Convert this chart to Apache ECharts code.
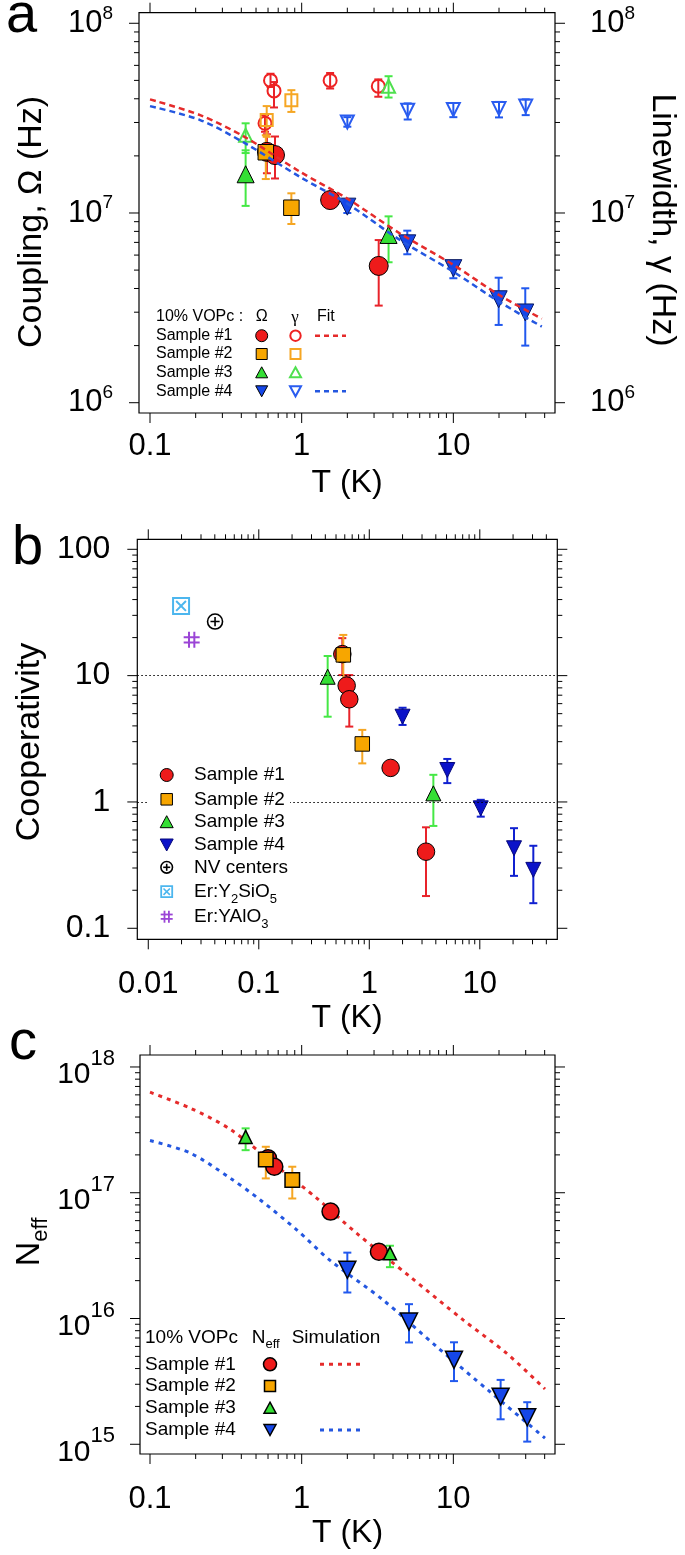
<!DOCTYPE html>
<html><head><meta charset="utf-8">
<script src="https://cdn.jsdelivr.net/npm/echarts@6/dist/echarts.min.js"></script>
<style>html,body{margin:0;padding:0;background:#fff}#c{width:685px;height:1555px}</style>
</head><body><div id="c"></div>
<script>
// ===== Panel a: [T (K), value, lower, upper] =====
const aOmega1 = [[0.59,2.10e7,1.62e7,2.60e7],[0.667,2.02e7,1.52e7,2.53e7],[1.54,1.17e7,1.12e7,1.22e7],[3.22,5.26e6,3.25e6,7.2e6]];
const aGamma1 = [[0.573,2.97e7,2.68e7,3.28e7],[0.623,5.0e7,4.62e7,5.42e7],[0.657,4.4e7,3.6e7,4.9e7],[1.54,5.0e7,4.53e7,5.47e7],[3.2,4.66e7,4.1e7,5.06e7]];
const aOmega2 = [[0.58,2.09e7,1.51e7,2.57e7],[0.855,1.066e7,8.75e6,1.27e7]];
const aGamma2 = [[0.588,3.09e7,2.52e7,3.66e7],[0.855,3.93e7,3.41e7,4.44e7]];
const aOmega3 = [[0.427,1.6e7,1.09e7,2.14e7],[3.74,7.66e6,5.5e6,9.6e6]];
const aGamma3 = [[0.427,2.57e7,2.07e7,2.97e7],[3.74,4.66e7,4.06e7,5.26e7]];
const aOmega4 = [[2.0,1.08e7,1.0e7,1.13e7],[4.97,6.92e6,6.06e6,8.07e6],[10,5.12e6,4.53e6,5.54e6],[19.9,3.51e6,2.57e6,4.56e6],[29.8,2.99e6,2.0e6,4.01e6]];
const aGamma4 = [[2.0,3.02e7,2.85e7,3.2e7],[5.0,3.48e7,3.11e7,3.78e7],[10,3.51e7,3.2e7,3.8e7],[20,3.55e7,3.19e7,3.85e7],[30,3.66e7,3.28e7,3.97e7]];
const aFit1 = [[0.1,3.97e7],[0.214,3.28e7],[0.42,2.52e7],[0.974,1.65e7],[2.0,1.19e7],[4.45,7.8e6],[10,5.33e6],[20,3.70e6],[38.3,2.77e6]];
const aFit4 = [[0.1,3.66e7],[0.214,3.09e7],[0.42,2.34e7],[0.974,1.55e7],[2.0,1.12e7],[4.45,7.2e6],[10,4.9e6],[20,3.41e6],[38.3,2.52e6]];
// ===== Panel b =====
const bCoop1 = [[0.57,14.8,10.1,19.8],[0.624,8.34,7.0,10.0],[0.659,6.5,3.95,10.1],[1.56,1.86,1.75,1.98],[3.26,0.404,0.18,0.63]];
const bCoop2 = [[0.582,14.6,8.2,21.0],[0.864,2.88,2.02,3.72]];
const bCoop3 = [[0.42,9.8,4.73,14.3],[3.8,1.17,0.646,1.64]];
const bCoop4 = [[2.0,4.73,4.07,5.57],[5.08,1.79,1.41,2.19],[10.2,0.89,0.765,1.04],[20.4,0.43,0.26,0.62],[30.5,0.29,0.158,0.45]];
const bNV = [[0.0402,26.8]];
const bErYSO = [[0.0198,35.6]];
const bErYAlO = [[0.0247,19.2]];
const bRefLines = [10, 1];
// ===== Panel c =====
const cN1 = [[0.60,1.88e17],[0.66,1.61e17],[1.55,7.08e16],[3.23,3.4e16]];
const cN2 = [[0.58,1.84e17,1.30e17,2.32e17],[0.867,1.26e17,9.0e16,1.61e17]];
const cN3 = [[0.427,2.78e17,2.18e17,3.25e17],[3.82,3.3e16,2.56e16,3.79e16]];
const cN4 = [[2.0,2.44e16,1.61e16,3.34e16],[5.1,9.45e15,6.45e15,1.3e16],[10.1,4.69e15,3.18e15,6.47e15],[20.5,2.39e15,1.58e15,3.25e15],[30.7,1.64e15,1.05e15,2.16e15]];
const cSim1 = [[0.1,6.3e17],[0.184,4.71e17],[0.337,3.2e17],[0.756,1.48e17],[1.255,9.06e16],[2.3,4.77e16],[5.18,2.15e16],[11.6,9.75e15],[22.4,5.3e15],[40.2,2.75e15]];
const cSim4 = [[0.1,2.6e17],[0.184,2.07e17],[0.337,1.31e17],[0.531,8.8e16],[0.927,5.07e16],[1.54,2.9e16],[3.45,1.4e16],[7.76,5.97e15],[17.4,2.62e15],[40.2,1.12e15]];
// ===== Tick labels =====
const acXTickExp = [-1, 0, 1];
const acXTickLbl = ['0.1', '1', '10'];
const bXTickExp = [-2, -1, 0, 1];
const bXTickLbl = ['0.01', '0.1', '1', '10'];
const aYTickExp = [6, 7, 8];
const bYTickExp = [-1, 0, 1, 2];
const bYTickLbl = ['0.1', '1', '10', '100'];
const cYTickExp = [15, 16, 17, 18];
// ===== Legend texts =====
const sampleNames = ['Sample #1', 'Sample #2', 'Sample #3', 'Sample #4'];
const bExtraNames = ['NV centers', '{m|Er:Y}{s|2}{m|SiO}{s|5}', '{m|Er:YAlO}{s|3}'];

const FONT = '"Liberation Sans", Arial, Helvetica, sans-serif';
const RED = '#ee1b1b', ORANGE = '#f7a600', GREEN = '#35df35', BLUE = '#1546e8', NAVY = '#0b12c9';
const ORED = '#ee2222', OORANGE = '#f6a623', OGREEN = '#4fe04f', OBLUE = '#2a5cf0';
const LBLUE = '#4cb6ee', PURPLE = '#9b45d6';

function expOf(v) { const e = Math.log10(v), r = Math.round(e); return Math.abs(e - r) < 1e-6 ? r : null; }
function fmtMap(exps, lbls) { return v => { const r = expOf(v); const i = r === null ? -1 : exps.indexOf(r); return i < 0 ? '' : lbls[i]; }; }
function fmtPow(exps) { return v => { const r = expOf(v); return (r === null || exps.indexOf(r) < 0) ? '' : '{m|10}{s|' + r + '}'; }; }

function logTicks(e0, e1, maxV) { const out = []; for (let e = e0; e <= e1; e++) { for (let m = 1; m <= 9; m++) { const v = m * Math.pow(10, e); if (v <= maxV) out.push([v, m === 1]); } } return out; }

function tickSeries(xi, yi, xTicks, yTicks, xRef, yRef) {
  const items = xTicks.map(t => ({v: [t[0], yRef], k: 0, M: t[1]})).concat(yTicks.map(t => ({v: [xRef, t[0]], k: 1, M: t[1]})));
  return {type: 'custom', xAxisIndex: xi, yAxisIndex: yi, silent: true, clip: false, z: 1, animation: false,
    data: items.map(i => i.v),
    renderItem: (params, api) => {
      const it = items[params.dataIndex]; const cs = params.coordSys; const L = it.M ? 10 : 5;
      const p = api.coord(it.v); let ls;
      if (it.k === 0) { const x = p[0]; ls = [[x, cs.y + cs.height, x, cs.y + cs.height + L], [x, cs.y, x, cs.y - L]]; }
      else { const y = p[1]; ls = [[cs.x, y, cs.x - L, y], [cs.x + cs.width, y, cs.x + cs.width + L, y]]; }
      return {type: 'group', children: ls.map(l => ({type: 'line', shape: {x1: l[0], y1: l[1], x2: l[2], y2: l[3]}, style: {stroke: '#000', lineWidth: 1}}))};
    }};
}
function errSeries(data, color, xi, yi, cap) {
  return {type: 'custom', xAxisIndex: xi, yAxisIndex: yi, silent: true, clip: false, z: 2, animation: false,
    data: data.filter(d => d.length > 3), encode: {x: 0, y: 1},
    renderItem: (params, api) => {
      const x = api.value(0); const lo = api.coord([x, api.value(2)]); const hi = api.coord([x, api.value(3)]);
      const st = {stroke: color, lineWidth: 2};
      return {type: 'group', children: [
        {type: 'line', shape: {x1: lo[0], y1: lo[1], x2: hi[0], y2: hi[1]}, style: st},
        {type: 'line', shape: {x1: lo[0] - cap, y1: lo[1], x2: lo[0] + cap, y2: lo[1]}, style: st},
        {type: 'line', shape: {x1: hi[0] - cap, y1: hi[1], x2: hi[0] + cap, y2: hi[1]}, style: st}]};
    }};
}
function sc(data, sym, size, fill, stroke, bw, xi, yi, rot, z) {
  return {type: 'scatter', xAxisIndex: xi, yAxisIndex: yi, silent: true, animation: false, z: z || 3,
    data: data.map(d => [d[0], d[1]]), symbol: sym, symbolSize: size, symbolRotate: rot || 0,
    itemStyle: {color: fill, borderColor: stroke, borderWidth: bw, opacity: 1}, emphasis: {disabled: true}};
}
function fit(data, color, xi, yi, z, dash, w) {
  return {type: 'line', xAxisIndex: xi, yAxisIndex: yi, silent: true, animation: false, z: z,
    data: data, showSymbol: false, symbol: 'none', smooth: 0.3,
    lineStyle: {color: color, width: w, type: dash}, emphasis: {disabled: true}};
}
const NONE = 'rgba(0,0,0,0)';
const PATH_NV = 'path://M10,1A9,9,0,1,1,9.99,1ZM10,4.5L10,15.5M4.5,10L15.5,10';
const PATH_YSO = 'path://M1,1L19,1L19,19L1,19ZM4.5,4.5L15.5,15.5M15.5,4.5L4.5,15.5';
const PATH_YAL = 'path://M7,1L7,19M13,1L13,19M1,7L19,7M1,13L19,13';

const axBase = {type: 'log', logBase: 10, axisLine: {show: false}, axisTick: {show: false}, splitLine: {show: false}, minorTick: {show: false}, minorSplitLine: {show: false}};
const lblBase = {color: '#000', fontFamily: FONT, showMinLabel: false, showMaxLabel: false};

const xAxis = [
  Object.assign({}, axBase, {gridIndex: 0, min: 0.0846, max: 46.8, axisLabel: Object.assign({}, lblBase, {fontSize: 31, margin: 18, formatter: fmtMap(acXTickExp, acXTickLbl)})}),
  Object.assign({}, axBase, {gridIndex: 1, min: 0.007955, max: 50.27, axisLabel: Object.assign({}, lblBase, {fontSize: 31, margin: 30, formatter: fmtMap(bXTickExp, bXTickLbl)})}),
  Object.assign({}, axBase, {gridIndex: 2, min: 0.0859, max: 46.8, axisLabel: Object.assign({}, lblBase, {fontSize: 31, margin: 30, formatter: fmtMap(acXTickExp, acXTickLbl)})})
];
const richA = {m: {fontSize: 31, lineHeight: 39, fontFamily: FONT, color: '#000'}, s: {fontSize: 19, verticalAlign: 'top', fontFamily: FONT, color: '#000'}};
const richC = {m: {fontSize: 30, padding: [16, 0, 0, 0], fontFamily: FONT, color: '#000'}, s: {fontSize: 22, verticalAlign: 'top', padding: [4, 0, 0, 0], fontFamily: FONT, color: '#000'}};
const yAxis = [
  Object.assign({}, axBase, {gridIndex: 0, min: 8.826e5, max: 1.137e8, axisLabel: Object.assign({}, lblBase, {margin: 26, formatter: fmtPow(aYTickExp), rich: richA})}),
  Object.assign({}, axBase, {gridIndex: 0, position: 'right', min: 8.826e5, max: 1.137e8, axisLabel: Object.assign({}, lblBase, {margin: 35, formatter: fmtPow(aYTickExp), rich: richA})}),
  Object.assign({}, axBase, {gridIndex: 1, min: 0.08181, max: 120, axisLabel: Object.assign({}, lblBase, {fontSize: 32, margin: 27, formatter: fmtMap(bYTickExp, bYTickLbl)})}),
  Object.assign({}, axBase, {gridIndex: 2, min: 8.37e14, max: 1.245e18, axisLabel: Object.assign({}, lblBase, {margin: 25, formatter: fmtPow(cYTickExp), rich: richC})})
];
const gridStyle = {show: true, borderColor: '#000', borderWidth: 1.2, backgroundColor: 'transparent'};
const grid = [
  Object.assign({left: 139, top: 12.7, width: 416, height: 400.3}, gridStyle),
  Object.assign({left: 137.3, top: 539.3, width: 420, height: 400}, gridStyle),
  Object.assign({left: 140, top: 1055, width: 415, height: 399}, gridStyle)
];

const series = [
  tickSeries(0, 0, logTicks(-1, 1, 46.8), logTicks(6, 8, 1.137e8), 1, 1e7),
  tickSeries(1, 2, logTicks(-2, 1, 49), logTicks(-1, 2, 120), 1, 1),
  tickSeries(2, 3, logTicks(-1, 1, 46.8), logTicks(15, 18, 1.245e18), 1, 1e16),
  // panel a
  errSeries(aOmega1, '#e8232a', 0, 0, 4), errSeries(aGamma1, '#e8232a', 0, 1, 4),
  errSeries(aOmega2, '#f5a623', 0, 0, 4), errSeries(aGamma2, '#f5a623', 0, 1, 4),
  errSeries(aOmega3, '#45e845', 0, 0, 4), errSeries(aGamma3, '#45e845', 0, 1, 4),
  errSeries(aOmega4, '#2158ee', 0, 0, 4), errSeries(aGamma4, '#2158ee', 0, 1, 4),
  sc(aGamma1, 'circle', 13, NONE, ORED, 2, 0, 1),
  sc(aGamma2, 'rect', 12, NONE, OORANGE, 2, 0, 1),
  sc(aGamma3, 'triangle', 13, NONE, OGREEN, 2, 0, 1),
  sc(aGamma4, 'triangle', 13, NONE, OBLUE, 2, 0, 1, 180),
  sc(aOmega3, 'triangle', 17, GREEN, '#000', 1, 0, 0),
  sc(aOmega1, 'circle', 19, RED, '#000', 1, 0, 0),
  sc(aOmega2, 'rect', 15.5, ORANGE, '#000', 1, 0, 0, 0, 4),
  sc(aOmega4, 'triangle', 17, BLUE, '#0a1a60', 1, 0, 0, 180, 4),
  fit(aFit1, '#e52b2b', 0, 0, 6, [6, 4], 2.5),
  fit(aFit4, '#2457e0', 0, 0, 6, [6, 4], 2.5),
  // panel b
  errSeries(bCoop1, '#e8232a', 1, 2, 4), errSeries(bCoop2, '#f5a623', 1, 2, 4),
  errSeries(bCoop3, '#45e845', 1, 2, 4), errSeries(bCoop4, '#1020d0', 1, 2, 4),
  Object.assign(sc(bCoop1, 'circle', 17.5, RED, '#000', 1, 1, 2), {markLine: {silent: true, symbol: ['none', 'none'], label: {show: false}, animation: false,
    lineStyle: {color: '#000', width: 1, type: [1.5, 2.5]}, data: bRefLines.map(v => ({yAxis: v}))}}),
  sc(bCoop2, 'rect', 14.5, ORANGE, '#000', 1, 1, 2, 0, 4),
  sc(bCoop3, 'triangle', 15, GREEN, '#000', 1, 1, 2),
  sc(bCoop4, 'triangle', 15, NAVY, '#06087a', 1, 1, 2, 180),
  sc(bNV, PATH_NV, 15, NONE, '#000', 1.6, 1, 2),
  sc(bErYSO, PATH_YSO, 16, NONE, LBLUE, 2, 1, 2),
  sc(bErYAlO, PATH_YAL, 16, NONE, PURPLE, 2, 1, 2),
  // panel c
  fit(cSim1, '#e52b2b', 2, 3, 2, [4, 5], 3),
  fit(cSim4, '#2457e0', 2, 3, 2, [4, 5], 3),
  errSeries(cN2, '#f5a623', 2, 3, 4), errSeries(cN3, '#45e845', 2, 3, 4), errSeries(cN4, '#2158ee', 2, 3, 4),
  sc(cN1, 'circle', 17, RED, '#000', 1.5, 2, 3),
  sc(cN2, 'rect', 14.5, ORANGE, '#000', 1.5, 2, 3, 0, 4),
  sc(cN3, 'triangle', 13, GREEN, '#000', 1.5, 2, 3, 0, 4),
  sc(cN4, 'triangle', 17, BLUE, '#000', 1.5, 2, 3, 180, 4)
];

// ===== graphic: titles, panel letters, legends =====
function T(x, y, text, size, o) {
  o = o || {};
  const st = {text: text, font: (o.weight || 'normal') + ' ' + size + 'px ' + (o.family || FONT), fill: o.color || '#000',
    textAlign: o.align || 'left', align: o.align || 'left', textVerticalAlign: o.va || 'middle', verticalAlign: o.va || 'middle'};
  if (o.rich) st.rich = o.rich;
  return {type: 'text', x: x, y: y, rotation: o.rot || 0, z: 100, silent: true, style: st};
}
function circ(cx, cy, r, fill, stroke, lw) { return {type: 'circle', z: 100, silent: true, shape: {cx: cx, cy: cy, r: r}, style: {fill: fill, stroke: stroke, lineWidth: lw}}; }
function sq(cx, cy, s, fill, stroke, lw) { return {type: 'rect', z: 100, silent: true, shape: {x: cx - s / 2, y: cy - s / 2, width: s, height: s}, style: {fill: fill, stroke: stroke, lineWidth: lw}}; }
function tri(cx, cy, w, h, down, fill, stroke, lw) {
  const pts = down ? [[cx - w / 2, cy - h / 2], [cx + w / 2, cy - h / 2], [cx, cy + h / 2]] : [[cx, cy - h / 2], [cx + w / 2, cy + h / 2], [cx - w / 2, cy + h / 2]];
  return {type: 'polygon', z: 100, silent: true, shape: {points: pts}, style: {fill: fill, stroke: stroke, lineWidth: lw}};
}
function ln(x1, y1, x2, y2, color, lw, dash) { return {type: 'line', z: 100, silent: true, shape: {x1: x1, y1: y1, x2: x2, y2: y2}, style: {stroke: color, lineWidth: lw, lineDash: dash || null}}; }

const G = [];
// panel letters
G.push(T(6, 45, 'a', 56, {va: 'bottom'}));
G.push(T(12, 577, 'b', 56, {va: 'bottom'}));
G.push(T(9, 1072, 'c', 56, {va: 'bottom'}));
// axis titles
G.push(T(32, 222, 'Coupling, Ω (Hz)', 34, {align: 'center', rot: Math.PI / 2}));
G.push(T(662, 220, 'Linewidth, γ (Hz)', 34, {align: 'center', rot: -Math.PI / 2}));
G.push(T(30, 742, 'Cooperativity', 34, {align: 'center', rot: Math.PI / 2}));
G.push(T(30, 1242, '{n|N}{s|eff}', 34, {align: 'center', rot: Math.PI / 2, rich: {n: {fontSize: 34, fontFamily: FONT, lineHeight: 44}, s: {fontSize: 22, fontFamily: FONT, verticalAlign: 'bottom'}}}));
G.push(T(347, 483, 'T (K)', 32, {align: 'center'}));
G.push(T(347, 1018, 'T (K)', 32, {align: 'center'}));
G.push(T(347.5, 1533, 'T (K)', 32, {align: 'center'}));
// legend a
const aRows = [335.7, 354, 372.3, 391.3];
G.push(T(156, 316.7, '10% VOPc :', 16));
G.push(T(261.7, 316.7, 'Ω', 16, {align: 'center'}));
G.push(T(295, 318, 'γ', 17, {align: 'center', family: '"Liberation Serif", serif'}));
G.push(T(317, 316.7, 'Fit', 16));
sampleNames.forEach((s, i) => G.push(T(156, aRows[i], s, 16)));
G.push(circ(261.7, aRows[0], 6, RED, '#000', 1));
G.push(sq(261.7, aRows[1], 11, ORANGE, '#000', 1));
G.push(tri(261.7, aRows[2], 12, 11, false, GREEN, '#000', 1));
G.push(tri(261.7, aRows[3], 12, 11, true, BLUE, '#000', 1));
G.push(circ(295.5, aRows[0], 5.2, NONE, ORED, 2));
G.push(sq(295.5, aRows[1], 10, NONE, OORANGE, 2));
G.push(tri(295.5, aRows[2], 11, 10, false, NONE, OGREEN, 2));
G.push(tri(295.5, aRows[3], 11, 10, true, NONE, OBLUE, 2));
G.push(ln(315, aRows[0], 346, aRows[0], '#e52b2b', 2.5, [5, 4]));
G.push(ln(315, aRows[3], 346, aRows[3], '#2457e0', 2.5, [5, 4]));
// legend b
const bRows = [775, 799.3, 821.7, 845, 867.3, 891.7, 916.7];
G.push({type: 'rect', z: 50, silent: true, shape: {x: 147, y: 762, width: 143, height: 168}, style: {fill: '#fff'}});
sampleNames.concat(bExtraNames).forEach((s, i) => G.push(T(194, bRows[i], s, 19, {rich: {m: {fontSize: 19, fontFamily: FONT, lineHeight: 28}, s: {fontSize: 13, fontFamily: FONT, verticalAlign: 'bottom'}}})));
G.push(circ(166.7, bRows[0], 6.5, RED, '#000', 1));
G.push(sq(166.7, bRows[1], 11.5, ORANGE, '#000', 1));
G.push(tri(166.7, bRows[2], 13, 12, false, GREEN, '#000', 1));
G.push(tri(166.7, bRows[3], 13, 12, true, NAVY, '#06087a', 1));
G.push(circ(166.7, bRows[4], 5.8, NONE, '#000', 1.6));
G.push(ln(166.7, bRows[4] - 3.5, 166.7, bRows[4] + 3.5, '#000', 1.6));
G.push(ln(163.2, bRows[4], 170.2, bRows[4], '#000', 1.6));
G.push(sq(166.7, bRows[5], 11, NONE, LBLUE, 1.8));
G.push(ln(163.5, bRows[5] - 3.2, 169.9, bRows[5] + 3.2, LBLUE, 1.6));
G.push(ln(169.9, bRows[5] - 3.2, 163.5, bRows[5] + 3.2, LBLUE, 1.6));
G.push(ln(164.5, bRows[6] - 6, 164.5, bRows[6] + 6, PURPLE, 1.8));
G.push(ln(168.9, bRows[6] - 6, 168.9, bRows[6] + 6, PURPLE, 1.8));
G.push(ln(160.7, bRows[6] - 2.2, 172.7, bRows[6] - 2.2, PURPLE, 1.8));
G.push(ln(160.7, bRows[6] + 2.2, 172.7, bRows[6] + 2.2, PURPLE, 1.8));
// legend c
const cRows = [1364.3, 1386, 1407.7, 1430];
G.push(T(145, 1337.3, '10% VOPc', 19));
G.push(T(251.7, 1337.3, '{n|N}{s|eff}', 19, {rich: {n: {fontSize: 19, fontFamily: FONT, lineHeight: 28}, s: {fontSize: 13, fontFamily: FONT, verticalAlign: 'bottom'}}}));
G.push(T(291.7, 1337.3, 'Simulation', 19));
sampleNames.forEach((s, i) => G.push(T(145, cRows[i], s, 19)));
G.push(circ(270, cRows[0], 6.5, RED, '#000', 1.5));
G.push(sq(270, cRows[1], 11, ORANGE, '#000', 1.5));
G.push(tri(270, cRows[2], 12, 11, false, GREEN, '#000', 1.5));
G.push(tri(270, cRows[3], 12, 11, true, BLUE, '#000', 1.5));
G.push(ln(320, cRows[0], 360, cRows[0], '#e52b2b', 3, [4, 5]));
G.push(ln(320, cRows[3], 360, cRows[3], '#2457e0', 3, [4, 5]));

const chart = echarts.init(document.getElementById('c'), null, {renderer: 'canvas', width: 685, height: 1555});
chart.setOption({animation: false, backgroundColor: '#fff', grid: grid, xAxis: xAxis, yAxis: yAxis, series: series, graphic: {elements: G}});
</script></body></html>
